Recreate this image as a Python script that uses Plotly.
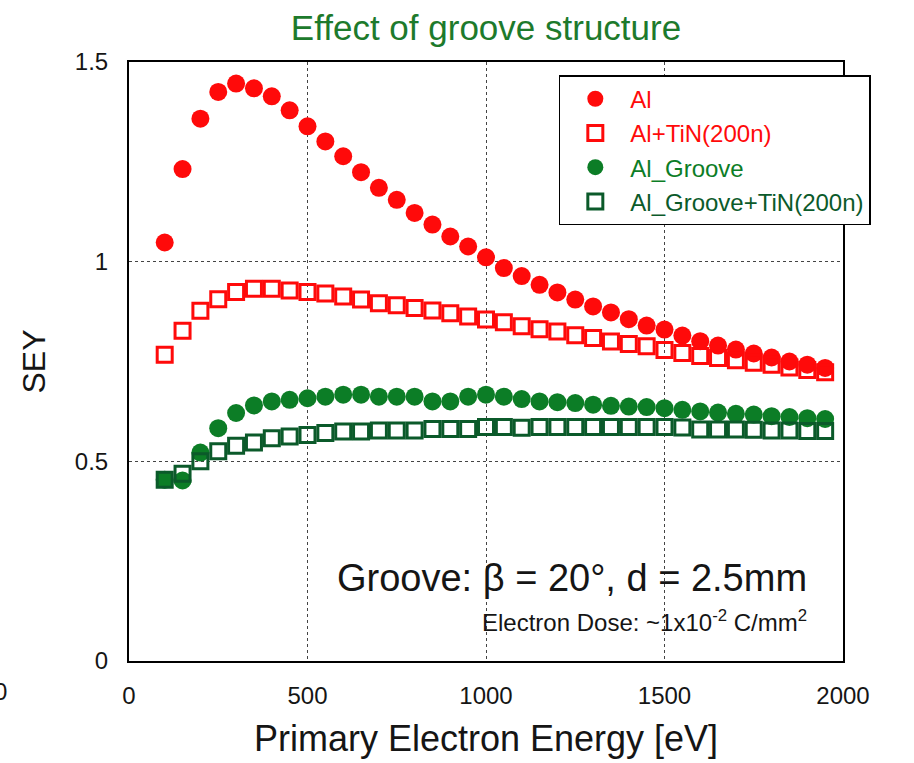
import plotly.graph_objects as go

# Primary electron energy [eV]
energy = [100, 150, 200, 250, 300, 350, 400, 450, 500, 550, 600, 650, 700, 750,
          800, 850, 900, 950, 1000, 1050, 1100, 1150, 1200, 1250, 1300, 1350,
          1400, 1450, 1500, 1550, 1600, 1650, 1700, 1750, 1800, 1850, 1900, 1950]

sey_al = [1.048, 1.232, 1.358, 1.425, 1.446, 1.434, 1.414, 1.379, 1.339, 1.301,
          1.264, 1.224, 1.185, 1.155, 1.122, 1.093, 1.063, 1.038, 1.011, 0.984,
          0.964, 0.942, 0.923, 0.905, 0.888, 0.873, 0.856, 0.840, 0.830, 0.815,
          0.801, 0.790, 0.780, 0.770, 0.760, 0.750, 0.742, 0.734]

sey_al_tin = [0.767, 0.827, 0.877, 0.906, 0.924, 0.932, 0.932, 0.928, 0.924, 0.920,
              0.913, 0.905, 0.896, 0.891, 0.884, 0.878, 0.871, 0.863, 0.855, 0.848,
              0.838, 0.831, 0.825, 0.816, 0.809, 0.800, 0.794, 0.788, 0.779, 0.771,
              0.764, 0.759, 0.753, 0.747, 0.742, 0.735, 0.729, 0.723]

sey_groove = [0.454, 0.452, 0.522, 0.583, 0.621, 0.640, 0.650, 0.654, 0.658, 0.662,
              0.667, 0.667, 0.662, 0.662, 0.662, 0.650, 0.650, 0.662, 0.667, 0.662,
              0.656, 0.650, 0.648, 0.646, 0.642, 0.639, 0.637, 0.636, 0.633, 0.629,
              0.625, 0.622, 0.619, 0.617, 0.613, 0.611, 0.608, 0.606]

sey_groove_tin = [0.454, 0.469, 0.500, 0.525, 0.539, 0.547, 0.558, 0.562, 0.566, 0.571,
                  0.575, 0.575, 0.577, 0.577, 0.577, 0.581, 0.581, 0.581, 0.586, 0.586,
                  0.584, 0.586, 0.586, 0.586, 0.586, 0.586, 0.586, 0.586, 0.586, 0.585,
                  0.580, 0.580, 0.580, 0.579, 0.577, 0.577, 0.576, 0.576]

x_ticks = [0, 500, 1000, 1500, 2000]
y_ticks = [0, 0.5, 1, 1.5]
y_ticktext = ["0", "0.5", "1", "1.5"]

RED = "#ff0a0a"
GREEN = "#0c7d26"
DGREEN = "#0b5a2a"
INK = "#151515"
FONT = "Liberation Sans, Arial, sans-serif"

fig = go.Figure()
fig.add_trace(go.Scatter(
    x=energy, y=sey_al, mode="markers",
    name='<span style="color:%s">Al</span>' % RED,
    marker=dict(symbol="circle", size=18, color=RED, line=dict(width=0))))
fig.add_trace(go.Scatter(
    x=energy, y=sey_al_tin, mode="markers",
    name='<span style="color:%s">Al+TiN(200n)</span>' % RED,
    marker=dict(symbol="square-open", size=15, color=RED, line=dict(width=3, color=RED))))
fig.add_trace(go.Scatter(
    x=energy, y=sey_groove, mode="markers",
    name='<span style="color:%s">Al_Groove</span>' % GREEN,
    marker=dict(symbol="circle", size=18, color=GREEN, line=dict(width=0))))
fig.add_trace(go.Scatter(
    x=energy, y=sey_groove_tin, mode="markers",
    name='<span style="color:%s">Al_Groove+TiN(200n)</span>' % DGREEN,
    marker=dict(symbol="square-open", size=15, color=DGREEN, line=dict(width=3, color=DGREEN))))

axis_common = dict(
    showgrid=True, gridcolor="#444444", gridwidth=1, griddash="dot",
    showline=True, mirror=True, linecolor="black", linewidth=2,
    ticks="", zeroline=False,
    tickfont=dict(family=FONT, size=24, color=INK),
)

fig.update_layout(
    width=914, height=763,
    margin=dict(l=129, r=71, t=62, b=102),
    paper_bgcolor="white", plot_bgcolor="white",
    font=dict(family=FONT, color=INK),
    title=dict(text="Effect of groove structure", x=0.5, xref="paper",
               y=1 - 28 / 763, yref="container", yanchor="middle",
               font=dict(family=FONT, size=35, color="#1d7a2c")),
    xaxis=dict(range=[0, 2000], tickvals=x_ticks, ticklabelstandoff=12,
               title=dict(text="Primary Electron Energy [eV]", standoff=18,
                          font=dict(family=FONT, size=36, color=INK)),
               **axis_common),
    yaxis=dict(range=[0, 1.5], tickvals=y_ticks, ticktext=y_ticktext, ticklabelstandoff=14,
               title=dict(text="SEY", standoff=20,
                          font=dict(family=FONT, size=32, color=INK)),
               **axis_common),
    legend=dict(x=0.602, y=0.978, xanchor="left", yanchor="top",
                bgcolor="white", bordercolor="black", borderwidth=1.5,
                font=dict(family=FONT, size=24), itemwidth=60,
                tracegroupgap=0),
    showlegend=True,
)

fig.add_annotation(text="Groove: \u03b2 = 20\u00b0, d = 2.5mm",
                   x=1905, y=0.207, xref="x", yref="y",
                   xanchor="right", yanchor="middle", showarrow=False,
                   font=dict(family=FONT, size=38, color=INK))
fig.add_annotation(text="Electron Dose: ~1x10<sup>-2</sup> C/mm<sup>2</sup>",
                   x=1905, y=0.1, xref="x", yref="y",
                   xanchor="right", yanchor="middle", showarrow=False,
                   font=dict(family=FONT, size=24, color=INK))
# partially cropped tick label at the far left edge of the original image
fig.add_annotation(text="0", x=-129 / 714, y=-30 / 599, xref="paper", yref="paper",
                   xanchor="center", yanchor="middle", showarrow=False,
                   font=dict(family=FONT, size=24, color=INK))

fig.write_html("out.html")
